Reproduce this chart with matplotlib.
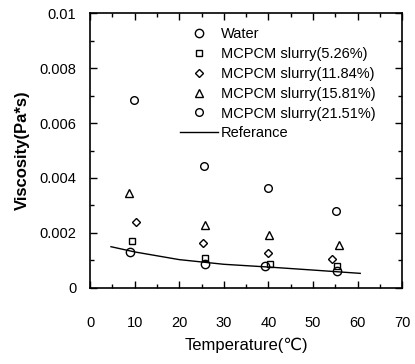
import numpy as np
import matplotlib
matplotlib.use('Agg')
import matplotlib.pyplot as plt
from matplotlib.ticker import MultipleLocator

plt.rcParams['font.family'] = ['Liberation Sans', 'DejaVu Sans']

# data
water_t = [9.0, 25.7, 39.3, 55.5]
water_v = [0.00131, 0.00086, 0.00081, 0.00063]

s526_t = [9.4, 25.8, 40.3, 55.3]
s526_v = [0.00172, 0.00110, 0.00086, 0.00081]

s1184_t = [10.4, 25.4, 40.0, 54.3]
s1184_v = [0.00241, 0.00165, 0.00128, 0.00104]

s1581_t = [8.7, 25.8, 40.2, 55.8]
s1581_v = [0.00347, 0.00230, 0.00193, 0.00156]

s2151_t = [9.8, 25.6, 40.0, 55.2]
s2151_v = [0.00684, 0.00443, 0.00365, 0.00279]

ref_t = [4.7, 10, 20, 30, 40, 50, 60.6]
ref_v = [0.00150, 0.00131, 0.00103, 0.00086, 0.00076, 0.00065, 0.00053]

fig = plt.figure(figsize=(4.15, 3.64), dpi=100)
ax = fig.add_axes([0.217, 0.209, 0.752, 0.755])

mk = dict(linestyle='none', mfc='none', mec='black', mew=1.0)
ax.plot(water_t, water_v, marker='o', ms=6, label='Water', **mk)
ax.plot(s526_t, s526_v, marker='s', ms=4.5, label='MCPCM slurry(5.26%)', **mk)
ax.plot(s1184_t, s1184_v, marker='D', ms=4, label='MCPCM slurry(11.84%)', **mk)
ax.plot(s1581_t, s1581_v, marker='^', ms=5.5, label='MCPCM slurry(15.81%)', **mk)
ax.plot(s2151_t, s2151_v, marker='o', ms=5.5, label='MCPCM slurry(21.51%)', **mk)
ax.plot(ref_t, ref_v, color='black', lw=1.0, label='Referance')

ax.set_xlim(0, 70)
ax.set_ylim(0, 0.01)
ax.xaxis.set_major_locator(MultipleLocator(10))
ax.xaxis.set_minor_locator(MultipleLocator(5))
ax.yaxis.set_minor_locator(MultipleLocator(0.001))
ax.set_yticks([0, 0.002, 0.004, 0.006, 0.008, 0.01])
ax.set_yticklabels(['0', '0.002', '0.004', '0.006', '0.008', '0.01'])
ax.tick_params(which='both', direction='in', top=True, right=True, width=1.0)
ax.tick_params(which='major', length=5)
ax.tick_params(which='minor', length=3)
ax.tick_params(axis='x', labelsize=10.5, pad=20)
ax.tick_params(axis='y', labelsize=10.5, pad=10)
for s in ax.spines.values():
    s.set_linewidth(1.2)

ax.set_xlabel('Temperature(\u2103)', fontsize=12, labelpad=6)
ax.set_ylabel('Viscosity(Pa*s)', fontsize=12, fontweight='bold', labelpad=7)

ax.legend(loc='upper left', bbox_to_anchor=(0.27, 0.97), frameon=False,
          fontsize=10.5, handlelength=2.6, handletextpad=0.2, labelspacing=0.4,
          borderaxespad=0)

fig.savefig('out.png', dpi=100)
